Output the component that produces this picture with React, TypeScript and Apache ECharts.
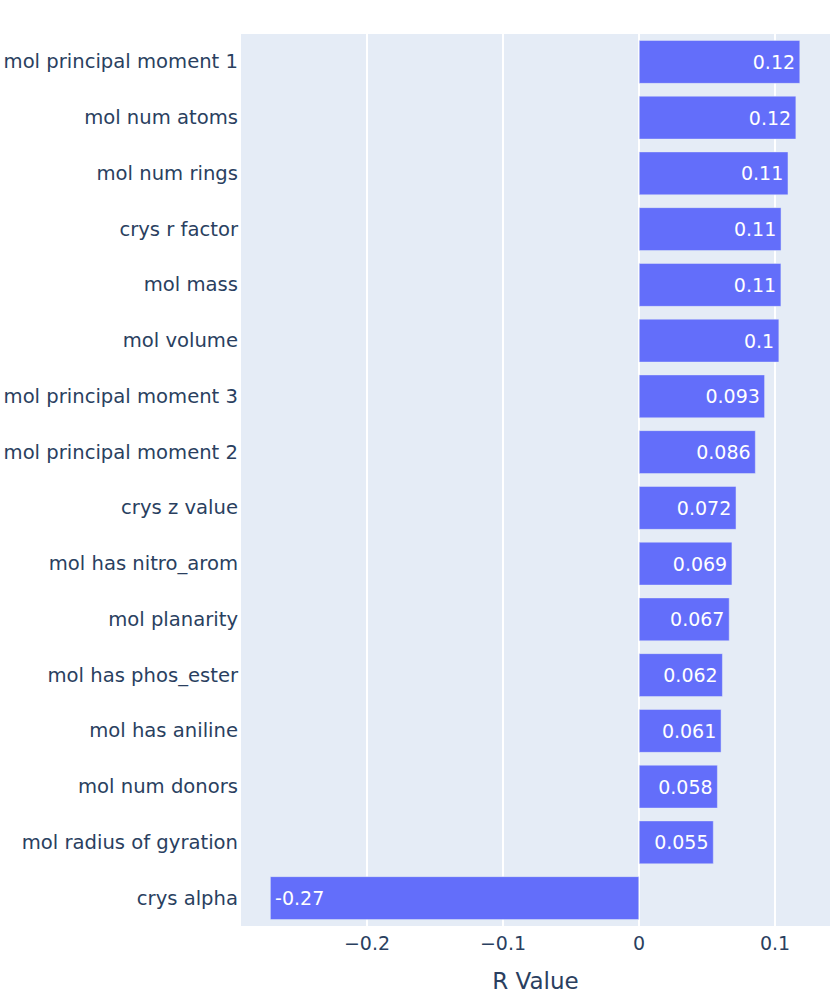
import React, { useEffect, useRef } from "react";
import * as echarts from "echarts";

const categories = [
  "mol principal moment 1",
  "mol num atoms",
  "mol num rings",
  "crys r factor",
  "mol mass",
  "mol volume",
  "mol principal moment 3",
  "mol principal moment 2",
  "crys z value",
  "mol has nitro_arom",
  "mol planarity",
  "mol has phos_ester",
  "mol has aniline",
  "mol num donors",
  "mol radius of gyration",
  "crys alpha",
];

const rValues = [
  0.1184, 0.1155, 0.1097, 0.1046, 0.1045, 0.1030, 0.0925, 0.0857, 0.0715,
  0.0685, 0.0665, 0.0615, 0.0605, 0.0578, 0.0548, -0.2712,
];

const valueLabels = [
  "0.12", "0.12", "0.11", "0.11", "0.11", "0.1", "0.093", "0.086", "0.072",
  "0.069", "0.067", "0.062", "0.061", "0.058", "0.055", "-0.27",
];

const xTicks = [-0.2, -0.1, 0, 0.1];

const FONT = "DejaVu Sans";
const TEXT = "#2a3f5f";

export default function App() {
  const ref = useRef<HTMLDivElement>(null);
  useEffect(() => {
    if (!ref.current) return;
    const chart = echarts.init(ref.current, null, { renderer: "svg" });
    chart.setOption({
      animation: false,
      backgroundColor: "#ffffff",
      textStyle: { fontFamily: FONT },
      grid: {
        left: 241,
        right: 0,
        top: 34,
        bottom: 68,
        show: true,
        backgroundColor: "#E5ECF6",
        borderWidth: 0,
        containLabel: false,
        outerBoundsMode: "none",
      },
      xAxis: {
        type: "value",
        min: -0.2926,
        max: 0.1404,
        name: "R Value",
        nameLocation: "middle",
        nameGap: 43,
        nameTextStyle: { color: TEXT, fontSize: 23, fontFamily: FONT },
        axisLine: { show: false },
        axisTick: { show: false, customValues: xTicks },
        splitLine: { show: true, lineStyle: { color: "#ffffff", width: 2 } },
        axisLabel: {
          color: TEXT,
          fontSize: 19,
          fontFamily: FONT,
          margin: 7,
          customValues: xTicks,
          formatter: (v: number) => {
            if (Math.abs(v) < 1e-9) return "0";
            const s = String(Math.round(Math.abs(v) * 10) / 10);
            return v < 0 ? "\u2212" + s : s;
          },
        },
      },
      yAxis: {
        type: "category",
        data: categories,
        inverse: true,
        axisLine: { show: false },
        axisTick: { show: false },
        splitLine: { show: false },
        axisLabel: { color: TEXT, fontSize: 19.6, fontFamily: FONT, margin: 3 },
      },
      series: [
        {
          type: "bar",
          data: rValues.map((v, i) => ({
            value: v,
            label: {
              show: true,
              position: v >= 0 ? "insideRight" : "insideLeft",
              formatter: valueLabels[i],
              distance: 5,
            },
          })),
          barCategoryGap: "22%",
          itemStyle: {
            color: "#636EFA",
            borderColor: "#E5ECF6",
            borderWidth: 0.5,
          },
          label: {
            color: "#ffffff",
            fontSize: 19,
            fontFamily: FONT,
          },
        },
      ],
    });
    return () => chart.dispose();
  }, []);
  return (
    <div
      ref={ref}
      style={{ position: "absolute", left: 0, top: 0, width: 830, height: 994 }}
    />
  );
}
